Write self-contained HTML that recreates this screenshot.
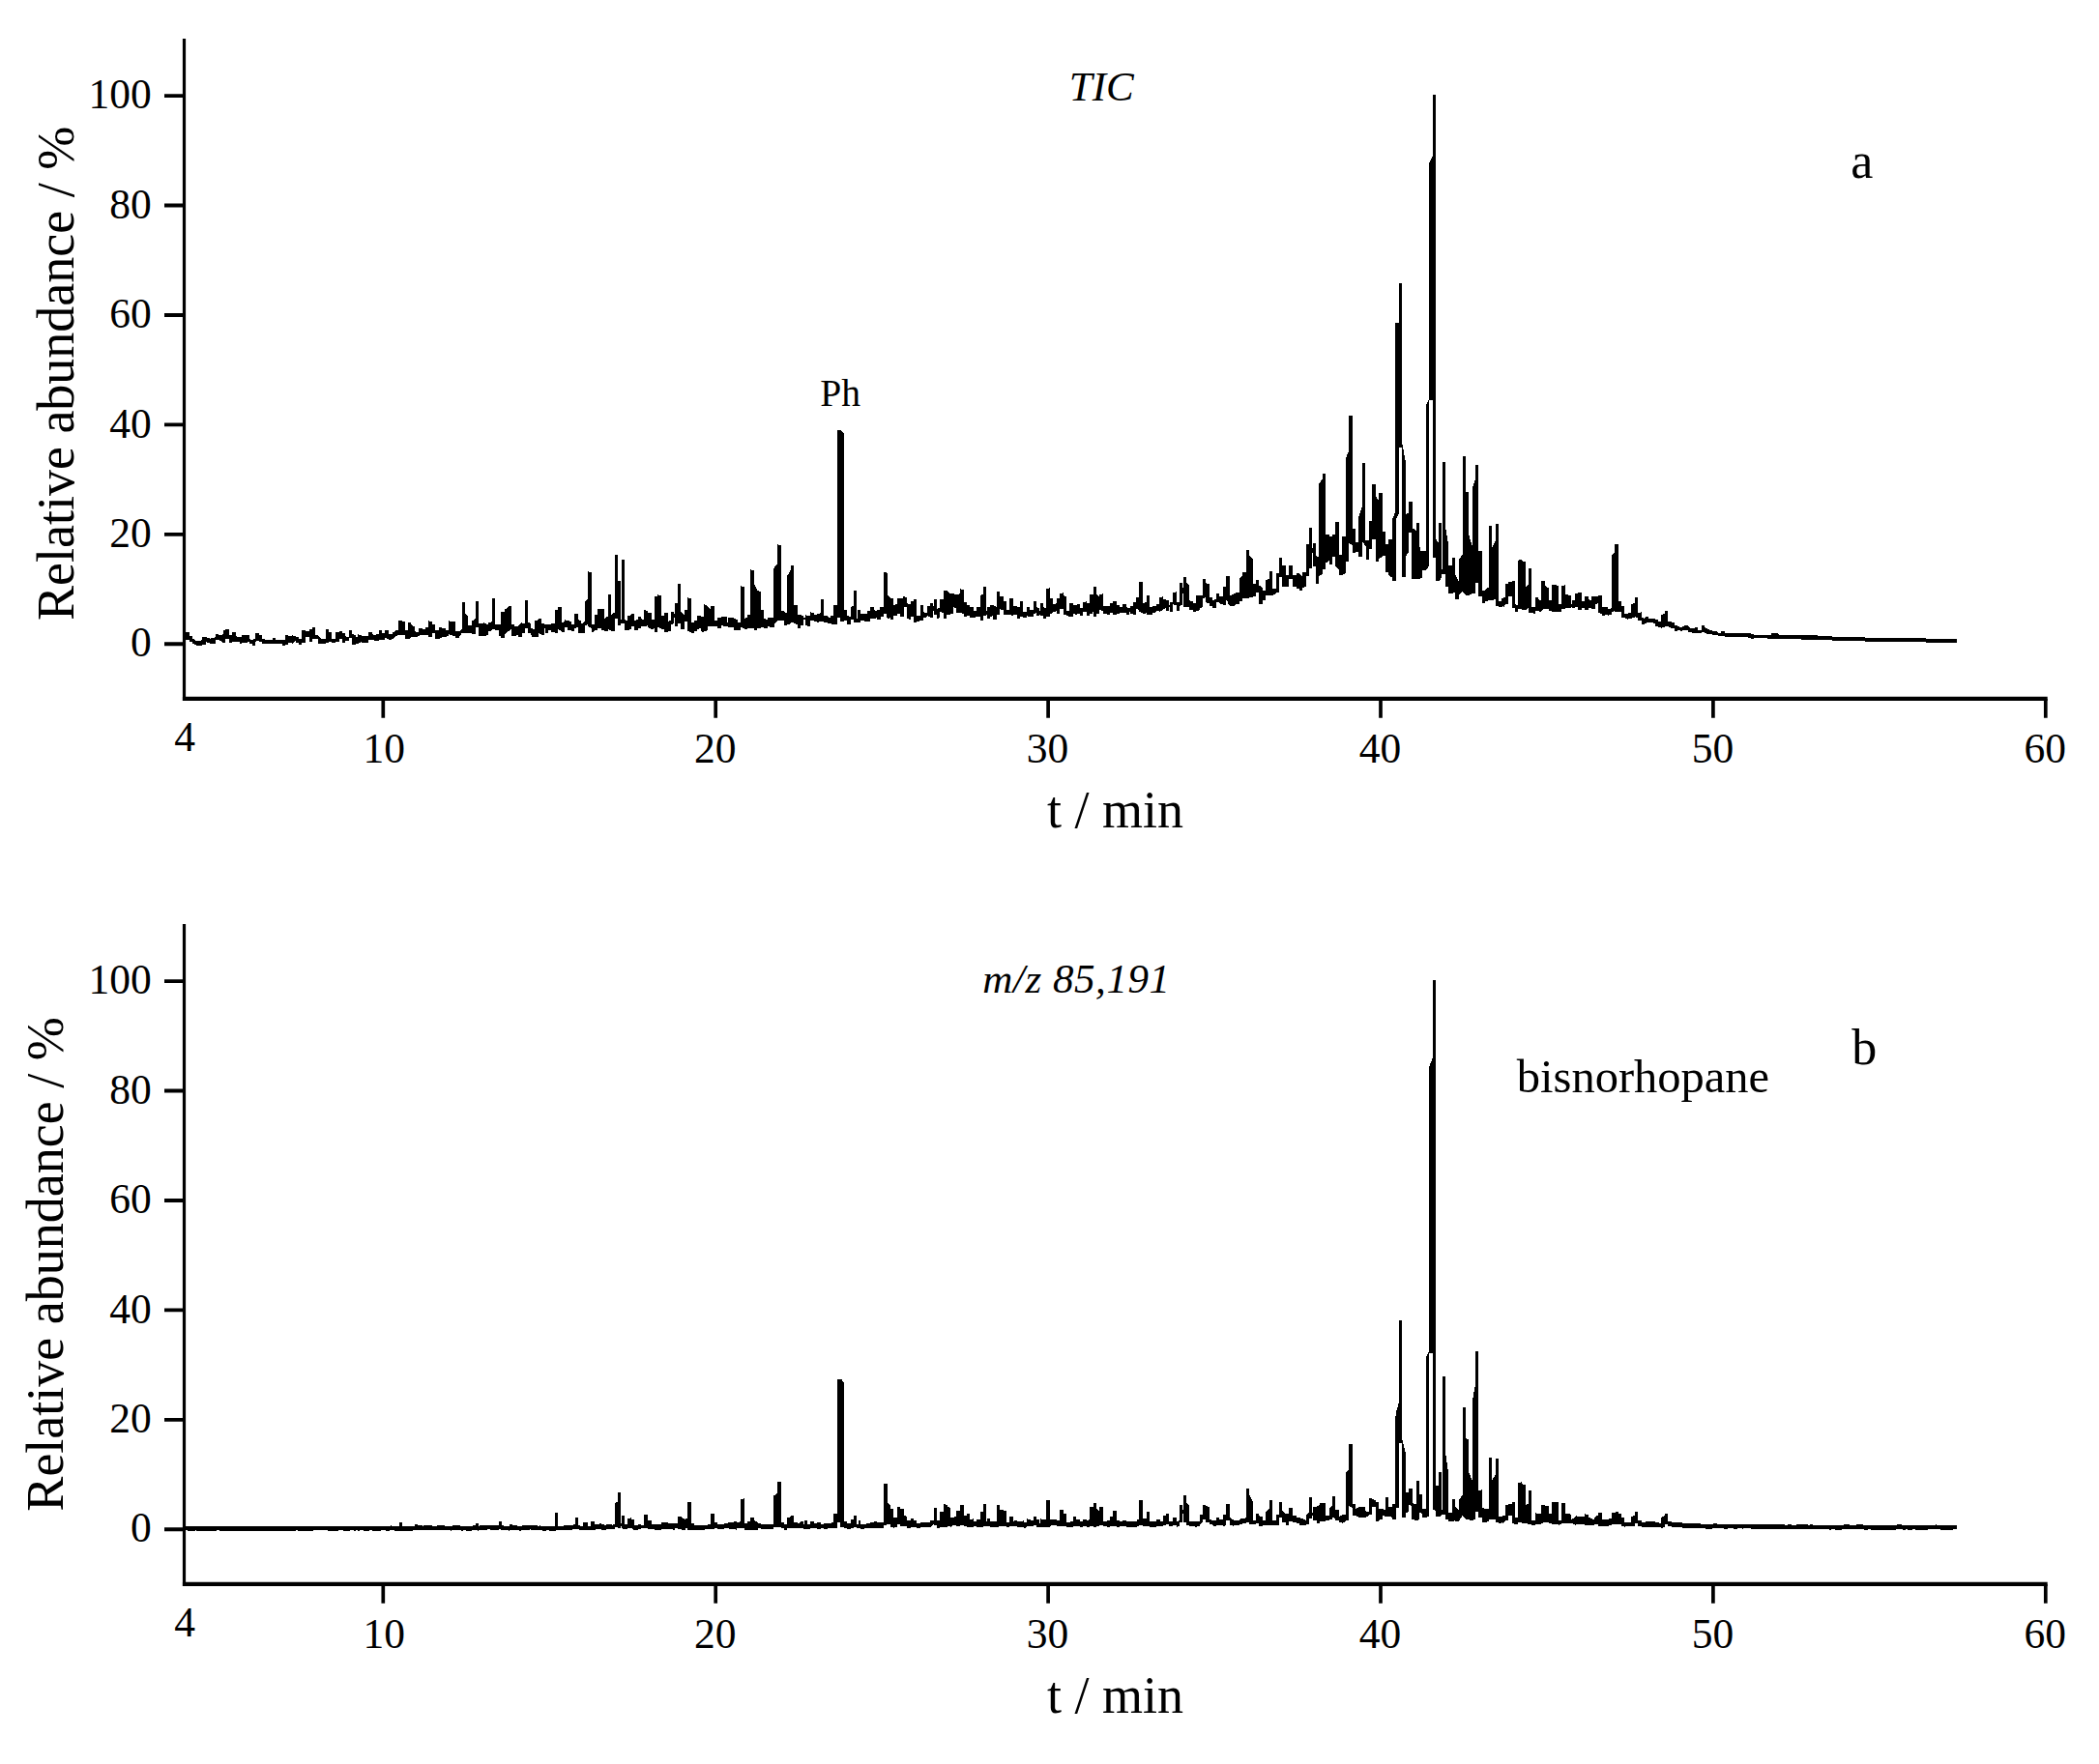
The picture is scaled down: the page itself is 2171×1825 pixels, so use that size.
<!DOCTYPE html>
<html lang="en"><head><meta charset="utf-8"><title>Chromatograms</title>
<style>html,body{margin:0;padding:0;background:#fff}svg{display:block}</style></head>
<body>
<svg width="2171" height="1825" viewBox="0 0 2171 1825">
<rect width="2171" height="1825" fill="#fff"/>
<g fill="none" stroke="#000" stroke-linecap="butt">
<path d="M190.5 40.0V724.9" stroke-width="3.2"/>
<path d="M188.9 722.9H2117.7" stroke-width="4.2"/>
<path d="M170 666.3H190M170 552.9H190M170 439.4H190M170 326.0H190M170 212.5H190M170 99.1H190" stroke-width="3.9"/>
<path d="M396.3 722.9V742.8M740.2 722.9V742.8M1084.1 722.9V742.8M1428.0 722.9V742.8M1771.9 722.9V742.8M2115.8 722.9V742.8" stroke-width="3.7"/>
</g>
<path fill="#000" shape-rendering="crispEdges" d="M190.5 662V654H196V658H199V660.5H200V661H200.5V661.5H201.5V662H202V662.5H202.5V663H204.5V662.5H208V662H209V659H213.5V659.5H215.5V660H217V660.5H217.5V660H219.5V659.5H221.5V659H223V656H226V657H228V656.5H230V656H230.5V651.5H233V650.5H237V657H240V654H244V658H244.5V658.5H246.5V659H250V657H257.5V661H259V661.5H260V662H261V661.5H262V661H263V660.5H264V655H268V656.5H271V660.5H272V661H273.5V661.5H274.5V662H275.5V661.5H282V660H285V661.5H288V662H295V657H298V658H302V657H302.5V657.5H304.5V658H306V659H309V661H312V652H316V653H319.5V651H322.5V649H326V657H329V658H329.5V658.5H330V659H330.5V659.5H331.5V660H332V661H337V651H340V654H343V660.5H347V654H350.5V653H354V655H357V658H358V658.5H360.5V659H361V652H364V655.5H365V656H366V656.5H367V657H368V659H370V656H370.5V656.5H372.5V657H374V657.5H381V654H385V656H385.5V656.5H387V657H388.5V656H390V655.5H392V652H395V654.5H398V652H402V656H406V654H406.5V653.5H407.5V653H408.5V652.5H409V652H412V642H415.5V643H419V652H422V644H425V646H425.5V646.5H426V647H427V647.5H428V648H429V653H430V653.5H432.5V654H433V650H437V650.5H439V651H440V648.5H443V642H443.5V642.5H445.5V643H446.5V645.5H450V652H453.5V648.5H457V650H460.5V651H461V651.5H463V652H464V642H465V642.5H468.5V643H470.5V653H474.5V652.5H475.5V652H476V651.5H477V651H477.5V623H481V635H481.5V635.5H482V636H482.5V636.5H483.5V637H484V646.5H486.5V647H488V642H488.5V641.5H489.5V641H490V640.5H490.5V640H491.5V622H495V645H497.5V644.5H500V644H501V644.5H502V645H503V645.5H504V646H505V644H506V643.5H508V643H509V619H512V646H518V633H522V630H522.5V629.5H523.5V629H524V628.5H524.5V628H525V627.5H525.5V627H529V645.5H532V648H534V647.5H535.5V647H536.5V646.5H537V646H537.5V645.5H538V645H538.5V644.5H539V644H539.5V644.5H541.5V645H543V621H546V643.5H547V644H547.5V644.5H548.5V645H549V650H549.5V650.5H550V650H551V650.5H552V651H553V642H554V641.5H555.5V641H557V640H560V645H563V646H570V645H574V631H577V628H581V644H581.5V643.5H582.5V643H584V641H585V641.5H586.5V642H588.5V642.5H591V646H594V635H598V641H599V641.5H600.5V642H601V645H601.5V644.5H602.5V644H603.5V643.5H604V643H605V622H605.5V621.5H606V621H606.5V620.5H607V619.5H607.5V619H608V591H609V591.5H611V592H612V646H615V636H618V630H625V640H625.5V639.5H626V639H626.5V638.5H627V638H628V637.5H628.5V637H629V615H632V636H632.5V635.5H633V635H633.5V634.5H634V634H635V633.5H635.5V633H636V574H639V601H642V641H643V579H646V641H647V641.5H648.5V642H649V637H650V636.5H652V636H653V635H656V642H656.5V641.5H657.5V641H658.5V640.5H659.5V640H660V638H663V640H664V640.5H665.5V641H666V631H667.5V631.5H669V632H670V634H674V641H677V617H678V616.5H679.5V616H680V615H681V615.5H683V616H684V637H684.5V636.5H686.5V636H687V634H691V643H691.5V642.5H692V642H693V641.5H693.5V641H694V633H697V635H698V624H701V604H704V633H704.5V633.5H705V634H706V634.5H706.5V635H707V635.5H707.5V636H708V631H711V618H712V618.5H714V619H715V644H718V642H721V637H725V638H728V625H728.5V625.5H730V626H731V626.5H732V628H732.5V628.5H733.5V629H734V629.5H735V627H739V642H742V639H745.5V638H752V644H753V639H759V640H760.5V640.5H762.5V641H763V644H766V606H767V606.5H768.5V607H770V640H770.5V639.5H771V639H772V638.5H773V636H776V589H777V589.5H779V590H780V604.5H780.5V605.5H781V606.5H781.5V607.5H782V608.5H782.5V609.5H783V611H784.5V611.5H786.5V612H787V631H790V640H791.5V640.5H793.5V641H794V639H800V587.5H801V585.5H801.5V585H802V584.5H803V584H803.5V583.5H804V563H805V563.5H806.5V564H808V632H811V633H811.5V633.5H812.5V634H814V595H814.5V594H815V593.5H815.5V592.5H816V592H816.5V591H817V590H817.5V589.5H818V585H821V626H825V636H829V636.5H830.5V637H831V639H832.5V636H834V636.5H837V637H838V633H838.5V633.5H840.5V634H842V636H845V635H846V634.5H847.5V634H849V620H852V637H856V638H857V638.5H858.5V639H859V637H862V626H866V445H870V445.5H870.5V446H871V446.5H871.5V447H872V447.5H872.5V448H873V631H876V637H878V637.5H880V628H880.5V627.5H881V627H882V626.5H883V611H886V640H887V631H890V635H897V632H900V628H904V631H904.5V631.5H906V632H907V631H910V628H914V592H917V593H918V615.5H918.5V616H919V616.5H919.5V617.5H920V618H920.5V618.5H921V619H924V626H924.5V625.5H925.5V625H926.5V624.5H927.5V624H928V619H934V617H935.5V617.5H937V618H938V624H939V624.5H941V625H942V622H943V621.5H944.5V621H945V620H948V637H952V626H955V633H956V633.5H958V634H959V627H962V624H965V627H966V620H969V630H969.5V629.5H970V629H971V628.5H971.5V628H972V620H976V611H980V612H980.5V612.5H981V613H982V613.5H983V614H987V614.5H988.5V615H991V614.5H992V614H993V609H994V609.5H996V610H997V623H1000V626H1003V627.5H1007V632H1010V628H1014V616H1014.5V615.5H1015V615H1016V614.5H1016.5V614H1017V607H1020V632H1021V628H1024V626H1025V625.5H1026.5V625H1027V626H1027.5V626.5H1028.5V627H1029.5V627.5H1030.5V628H1031V612H1034V617H1038V622H1041V631H1044V619H1048V627H1052V628H1055V622H1058V633H1062V628H1065V631H1069V622H1072V628H1073V628.5H1074.5V629H1075V632H1076V624H1079V628H1079.5V628.5H1081.5V629H1082V609H1083V608.5H1085V608H1086V619H1089V625H1090V624.5H1092V624H1093V619H1096V614H1097V613.5H1099V613H1100V616H1100.5V616.5H1102V617H1103V632H1104V631.5H1105.5V631H1106V624H1110V626H1114V625H1117V629H1120V623H1121V622.5H1123V622H1124V624H1127V615H1131V607H1134V614.5H1134.5V615H1135V615.5H1135.5V616.5H1136V617H1136.5V617.5H1137V615H1138V614.5H1140V614H1141V627H1148V624H1151V622H1155V626H1158V628H1161V625H1165V628H1166V628.5H1168V629H1169V627H1172V623H1175V618H1176V617.5H1177.5V617H1178V602H1179.5V601.5H1181.5V601H1182V624H1182.5V623.5H1183.5V623H1184.5V622.5H1185.5V622H1186V616H1189V628H1192V627H1193.5V626.5H1195.5V626H1196V625H1197V624.5H1198.5V624H1199V618H1200V617.5H1202V617H1203V620H1206V621H1209V626H1210V623H1213V613H1214V612.5H1216V612H1217V623H1220V603H1223V608H1224V597H1227V602.5H1227.5V603H1228V604H1228.5V604.5H1229V605H1229.5V606H1230V621H1230.5V621.5H1232.5V622H1234V624H1237V616H1242V615.5H1243.5V615H1244V599H1247V603H1247.5V603.5H1249.5V604H1251V618H1254V621H1254.5V620.5H1255.5V620H1256.5V619.5H1257.5V619H1258V614H1261V617H1265V607H1268V596H1272V616H1272.5V615.5H1273.5V615H1275V614.5H1276V614H1277V613.5H1278V613H1282V598H1282.5V597.5H1283V597H1283.5V596.5H1284V596H1285V592H1289V569H1292V575H1292.5V575.5H1293V576H1293.5V576.5H1294V577H1294.5V577.5H1295.5V578H1296V604H1299V600H1302V605.5H1303V606H1303.5V606.5H1304V607H1304.5V607.5H1305.5V608H1306V611H1309V600H1310V599.5H1311V599H1311.5V598.5H1312.5V598H1313V591H1316V609H1320V593H1323V577H1326V585H1330V595H1333V585H1337V595H1340.5V593H1344V594H1344.5V594.5H1345V595H1346V595.5H1346.5V596H1347V592H1350.5V563H1354V546H1357V567H1358V562H1361V575H1361.5V575.5H1363V576H1364V500H1364.5V499.5H1365V498.5H1365.5V498H1366V497H1366.5V496.5H1367V495.5H1367.5V495H1368V490H1371V553H1375V555H1378V553H1381V540H1385V574H1388V555H1392V472.5H1392.5V471.5H1393V470H1393.5V469H1394V468H1394.5V466.5H1395V429.5H1399V547H1402V560.5H1405V533.5H1405.5V532H1406V530.5H1406.5V529H1407V527.5H1407.5V526H1408V524.5H1408.5V523H1409V479H1412V558.5H1416V539H1419V501H1423V514H1423.5V515H1424V515.5H1424.5V516.5H1425V517H1425.5V518H1426V510H1430V550H1433V563H1436V557.5H1440V536H1440.5V534.5H1441V533.5H1441.5V532.5H1442V531H1442.5V530H1443V334H1447V293H1450V459.5H1450.5V462H1451V465H1451.5V467.5H1452V470.5H1452.5V473H1453V476H1453.5V478.5H1454V532H1454.5V531.5H1455V531H1456V530.5H1456.5V530H1457V519H1461V546.5H1461.5V547H1462.5V547.5H1463V548H1463.5V548.5H1464V549H1464.5V541H1468V566H1469V570H1474.5V418.5H1475V417.5H1475.5V416.5H1476V415.5H1476.5V414.5H1477V413.5H1477.5V412.5H1478V168H1478.5V167H1479V166H1479.5V164.5H1480V163.5H1480.5V162.5H1481V161.5H1481.5V97.5H1485V558H1485.5V558.5H1486V559.5H1486.5V560H1487V560.5H1487.5V561H1488V541H1491V589H1492V478H1495V548H1495.5V551H1496V554H1496.5V557H1497V559.5H1497.5V562.5H1498V585H1502V577H1505V595H1505.5V596H1506V597H1506.5V598H1507V598.5H1507.5V599.5H1508V600.5H1508.5V578H1509V577.5H1509.5V577H1510V576.5H1510.5V575.5H1511V575H1511.5V574.5H1512V574H1512.5V472H1516V509H1519V554H1519.5V555.5H1520V557.5H1520.5V559H1521V560.5H1521.5V562H1522V563.5H1522.5V504.5H1523V503H1523.5V501.5H1524V500H1524.5V498.5H1525V497H1525.5V495H1526V481H1529V570H1533V611H1536V609.5H1536.5V609H1537V608.5H1538V608H1539V607.5H1539.5V607H1540V544H1543V565.5H1543.5V564.5H1544V563.5H1544.5V562.5H1545V561.5H1545.5V560.5H1546V559.5H1546.5V558.5H1547V542H1550V622H1553V619H1554V618.5H1555V618H1555.5V617.5H1556.5V617H1557V604H1560V601.5H1564V601H1567V625H1567.5V625.5H1569V626H1570V579.5H1570.5V579H1574V580H1575V580.5H1576.5V581H1578V607H1578.5V606.5H1579V606H1579.5V605.5H1580V605H1580.5V604.5H1581V588H1584V628H1588V618H1590.5V620H1591.5V620.5H1593V621H1594V601H1598V606H1598.5V606.5H1599.5V607H1600V607.5H1601V608H1602V621H1605V605H1609.5V606H1612V625H1615V606H1616.5V605.5H1618V605H1619V615H1622V616H1625V624.5H1626V621H1629V613.5H1632V613H1636V622H1639V616.5H1643V620H1643.5V620.5H1645V621H1646V617H1647.5V616.5H1649.5V616H1650V617H1653V616H1657V628H1663V630H1664.5V629.5H1666V629H1667V574H1667.5V573.5H1668V573H1668.5V572.5H1669V572H1669.5V571.5H1670V563H1674V622H1677V627H1680V635H1684V634H1687V625H1687.5V624.5H1688.5V624H1689.5V623.5H1690.5V623H1691V618H1694V634H1695V633.5H1697V633H1698V639H1700V639.5H1700.5V639H1701V638.5H1701.5V637.5H1705V639.5H1712V641H1715V642.5H1718V636H1718.5V635.5H1719.5V635H1721V634.5H1722V632H1725V643H1728.5V644H1732V646.5H1735V647.5H1735.5V648H1737V648.5H1739.5V648H1742V646.5H1746V648H1746.5V648.5H1747V649H1748V649.5H1748.5V650H1752.5V648.5H1755.5V651.5H1760V647H1763V649H1764V649.5H1765V650H1766V650.5H1767V651H1768V651.5H1770V652H1770.5V652.5H1772.5V653H1775.5V653.5H1777V654.5H1780V652.5H1784V654.5H1801V655H1808V654.5H1811V656H1814V656.5H1828V657H1832V655H1838.5V656H1839.5V656.5H1844.5V657H1880V658H1894.5V658.5H1911.5V659H1928.5V659.5H1955V660H1991.5V660.5H2024V664.5H1991.5V664H1955V663.5H1928.5V663H1911.5V662.5H1894.5V662H1880V661.5H1863V660.5H1828V660H1814V661H1811V659.5H1808V658.5H1784V657.5H1777V657H1770.5V655.5H1765V655H1763.5V654.5H1763V653.5H1760V654.5H1749.5V653.5H1746V651.5H1741V652H1739.5V652.5H1737.5V651.5H1735V652.5H1732V649.5H1727.5V649H1726.5V648.5H1725.5V648H1725V647.5H1722V648H1721.5V648.5H1720V649H1719V649.5H1718V649H1715V648H1712V644.5H1709.5V644H1705.5V643.5H1705V644H1703V644.5H1701.5V645H1701V645.5H1700V646H1698V642H1694V639H1693.5V638.5H1692V638H1690.5V638.5H1689V639H1688V639.5H1684V640.5H1683V640H1682V639.5H1681V639H1677V633H1670V632H1668.5V632.5H1667V636H1664V636.5H1663V636H1660V636.5H1657.5V637H1657V635H1656.5V634.5H1654.5V634H1653V623.5H1652.5V624H1651.5V624.5H1650V629.5H1646V629H1643V631H1639V629H1636V630.5H1632V628H1629V629H1626V627.5H1625V629H1619V629.5H1615V633H1605V632H1602V629.5H1598V629H1597.5V629.5H1597V630H1596V630.5H1595.5V631H1594.5V631.5H1594V633H1593.5V632.5H1592V632H1588V634.5H1586V634H1581V628H1580.5V628.5H1580V629H1579.5V629.5H1579V630H1578.5V630.5H1578V631H1574V629.5H1570V633H1567V629H1564V617H1560V625H1557V625.5H1556.5V626H1556V627H1555.5V627.5H1555V626.5H1554.5V627H1554V627.5H1553.5V628H1550V627H1547V619.5H1546.5V620H1545V620.5H1543.5V621H1538.5V621.5H1536V624H1533V617H1529V603H1526V614H1522V614.5H1521V615H1520V615.5H1519V616H1516V615.5H1515.5V615H1515V614.5H1514.5V614H1514V613.5H1513.5V613H1513V612H1512V612.5H1511.5V613H1511V613.5H1510.5V614H1510V614.5H1509.5V615H1509V615.5H1508.5V620H1507.5V619.5H1505V612H1504.5V612.5H1503.5V613H1503V613.5H1502V614H1498V607H1495V594H1491V597.5H1490.5V598H1490V599H1489.5V599.5H1489V600H1488.5V600.5H1488V601H1485V576.5H1481.5V414H1478V585.5H1477.5V586H1477V587H1476.5V587.5H1476V588H1475.5V588.5H1475V589.5H1474.5V590H1471V597.5H1469V598H1468.5V598.5H1460V551H1457V571H1456.5V571.5H1456V572.5H1455.5V573H1455V574H1454.5V574.5H1454V597H1450V462.5H1447V530.5H1446.5V531.5H1446V532.5H1445.5V534H1445V535H1444.5V536H1444V601H1440V597.5H1439.5V597H1438.5V596.5H1438V596H1437V595.5H1436.5V595H1436V592H1433V575H1430V575.5H1429V576H1428.5V576.5H1427.5V577H1427V577.5H1426.5V578H1426V580.5H1423V558H1419V568H1416V578.5H1413V564.5H1412V564H1411.5V563.5H1411V562.5H1410.5V562H1410V561.5H1409.5V561H1409V575.5H1405V570.5H1402V571.5H1399V564H1398.5V563.5H1397.5V563H1397V562.5H1396V562H1395V580.5H1392V593H1391V593.5H1390V594H1389V594.5H1388V595H1385V589H1384.5V588.5H1384V588H1383.5V587.5H1382.5V587H1382V586.5H1381.5V586H1381V576H1378V583.5H1375V580H1374V580.5H1373V581H1372.5V581.5H1371.5V582H1371V589H1368V593H1367.5V593.5H1367V594H1366.5V594.5H1365.5V595H1365V595.5H1364.5V596H1364V603.5H1361V585.5H1358V572H1357V587.5H1354V595.5H1350.5V606.5H1350V607H1348.5V607.5H1347.5V608H1347V610.5H1344V608.5H1340.5V606.5H1337V599H1333V606.5H1326V597H1323V613H1320V613.5H1319.5V614H1318.5V614.5H1317.5V615H1317V615.5H1316V616H1309V621H1306V625H1302V613H1299V617H1296V618H1292V619H1285V622H1282V625H1278V626H1276.5V626.5H1273V627H1271.5V626H1271V625.5H1270.5V624.5H1270V622.5H1269.5V622H1269V621.5H1268.5V621H1268V626H1265V625H1264V624.5H1262V624H1261V623H1258V629H1254V627H1251V624H1250V623.5H1248V623H1247V618H1246V618.5H1244.5V619H1244V628H1243V628.5H1241.5V629H1241V631H1239.5V631.5H1237.5V632H1237V633H1234V631H1230V628H1224V613.5H1223V625H1222.5V625.5H1222V626H1221V626.5H1220.5V627H1220V632H1217V626H1215.5V625.5H1213.5V625H1213V633H1210V628H1209V632H1206V629H1205V629.5H1203.5V630H1203V631H1202V631.5H1201V632H1200V632.5H1199.5V633H1199V632H1196V633H1195V633.5H1193V634H1192V636H1186V634H1185V634.5H1182.5V635H1182V634H1181V633.5H1179.5V633H1178V630.5H1176.5V630H1175V636H1172V635H1169V633H1168V636H1165V634H1158V635H1155V636H1151V634H1148V636H1144.5V635H1141V632H1140.5V631.5H1139V631H1137V635H1134V638H1131V633H1130V634H1129.5V634.5H1127.5V635H1127V637H1124V633H1120V637H1117V635H1114V635.5H1111.5V635H1110V638H1105.5V637.5H1104.5V637H1103V635.5H1100V630H1096V635H1093V632H1091.5V632.5H1089.5V633H1089V634H1088V634.5H1086.5V635H1086V638H1082V640H1079V637H1076V635.5H1075V637H1072V634H1071V634.5H1069.5V635H1069V638H1064.5V637.5H1063V637H1062V639H1058V638H1055V640H1052V635.5H1048V637H1047.5V636.5H1046V636H1044V635.5H1038V631H1036.5V630.5H1035V630H1034V635.5H1031V641H1027V637H1026V637.5H1024.5V638H1024V640H1021V636H1020V637H1017V642H1014V638H1009V638.5H1007.5V639H1003V637H1000V638H997V634.5H995V634H993V633.5H990V634H989V629H988.5V628.5H987V628H986V635H983V636H979V640H976V634H975.5V633.5H973.5V633H972V639H971V639.5H969.5V640H969V636H966V632H965V639H962V638H961.5V637.5H960V637H959V638H957.5V638.5H956V639H955V642H950.5V642.5H948.5V643H948V644H945V638H942V641H941.5V640.5H939.5V640H938V627.5H935V638H931V635H928V637H924V641H921V639H920V639.5H918.5V640H918V639H917V635H914V638H911V641H907V639H906V639.5H904.5V640H900V643H894V642H890V644H883V641H880V646H876V642H873V643H869V639H865.5V646H861.5V645.5H860V645H856V644H852V643H849V642H848.5V642.5H847.5V643H846.5V643.5H845.5V644H845V643H842V642H838V648H837V647.5H834.5V647H832.5V641H831V647H828V650H825V646H824.5V645.5H822.5V645H821V644H818V645H816.5V645.5H814.5V646H814V647H811V642H803.5V642.5H803V643H802.5V643.5H802V644H801.5V644.5H801V649H799V648.5H796V648H794V650H790V649H787V650H783V652H780V650H773V651H770V650H769.5V649.5H767.5V649H766V652H759V649H753V648H751V647.5H748V647H745.5V650H742V648H732V652H730.5V652.5H728.5V653H728V654H727.5V653.5H726V653H725V649.5H724V650H722.5V650.5H721.5V651H721V653H718V655H715V654H714.5V653.5H712.5V653H711V643H708V651H704V645H701V648H698V639H697V645H695.5V645.5H694V653H691V654H687V651H684V650H683V649.5H681.5V649H680V654H677V650H676V650.5H674V651H673.5V650.5H672.5V650H672V649.5H671V649H670V647H669V647.5H667V648H663V650H660V652H656V648H653V650H652.5V650.5H651.5V651H650.5V651.5H649.5V652H646V645H642V647H639V640H636V653H632V652H631.5V651.5H630V651H629V653H625V652H622V650H618V652H615V653H614V653.5H612.5V654H612V650H611.5V649.5H610.5V649H609.5V648.5H608.5V648H608V646H607V646.5H605.5V647H605V655H598V648H597.5V648.5H596.5V649H595.5V649.5H594.5V650H594V653H591V652H587V649H584V654H581V652.5H580V652H579V651.5H578V651H577V655H574V654H570V652H567V655H564V650H563V657H560V656H559.5V655.5H558V655H557V659H550V657.5H549.5V657H549V655H546V650H543V655H539.5V659H536V656.5H534.5V657H533.5V657.5H532.5V658H529V650H528.5V650.5H528V651H527.5V651.5H527V652H526.5V652.5H526V653H525V653.5H524.5V654H524V654.5H523.5V655H522.5V655.5H522V659.5H518V658H515.5V652H512V650.5H509V652H507.5V652.5H505.5V653H505V656.5H504.5V657H503V657.5H501.5V658H495V649H491.5V655.5H488V655H477V655.5H476.5V656.5H476V657H475.5V658H475V658.5H474.5V659.5H474V660H470.5V658H470V657.5H468V657H466.5V656.5H464.5V656H464V657H463.5V657.5H462.5V658H461.5V658.5H460.5V659H457V659.5H456V660H455V660.5H453.5V661H450V655H446.5V659H443V657H436.5V656.5H435V657H433.5V657.5H433V658H431.5V658.5H429.5V659H425V659.5H424.5V660H423.5V660.5H422.5V661H421V660.5H419V657H411V657.5H410V658H409V658.5H408.5V659H408V659.5H407V660H406.5V660.5H406V661H404.5V661.5H403V662H402V661H401V660.5H399.5V660H398V662H392V663H388V662.5H386.5V662H381V664.5H374V664H373V664.5H372V665H371V665.5H368V666.5H364V660H361V662.5H357V664.5H354V660.5H350.5V663.5H347V664.5H343V663.5H340V664.5H337V665.5H329V661H326V660.5H322.5V663.5H319.5V659H316V664.5H312V667H309V664.5H306V662H305.5V662.5H305V663H304.5V663.5H304V664H303.5V664.5H303V665H302.5V665.5H302V664.5H298V666.5H295V667.5H292V665.5H271V663.5H268V662H267.5V662.5H266V663H264.5V663.5H264V667.5H261V665.5H257.5V664H255.5V664.5H253V665H250V665.5H247.5V663.5H240V664.5H237V660.5H233V664.5H230V664H229V663.5H228.5V663H227.5V662.5H226.5V662H223V665.5H217V665H215V664.5H213.5V664H213V666.5H209V667.5H202.5V667H202V666.5H201V666H200V665.5H199V663.5H196V662Z"/>
<g font-family="'Liberation Serif','Times New Roman',Times,serif" font-size="43.5px" fill="#000">
<g text-anchor="end">
<text x="156.8" y="679.4">0</text>
<text x="156.8" y="566.0">20</text>
<text x="156.8" y="452.5">40</text>
<text x="156.8" y="339.1">60</text>
<text x="156.8" y="225.6">80</text>
<text x="156.8" y="112.2">100</text>
</g><g text-anchor="middle">
<text x="191.2" y="777.0">4</text>
<text x="397.2" y="788.9">10</text>
<text x="739.7" y="788.9">20</text>
<text x="1083.6" y="788.9">30</text>
<text x="1427.5" y="788.9">40</text>
<text x="1771.4" y="788.9">50</text>
<text x="2115.3" y="788.9">60</text>
</g></g>
<text font-family="'Liberation Serif','Times New Roman',Times,serif" font-size="54px" text-anchor="middle" x="1153.6" y="856.4">t / min</text>
<text font-family="'Liberation Serif','Times New Roman',Times,serif" font-size="54px" text-anchor="middle" transform="translate(75.5 386.4) rotate(-90)">Relative abundance / %</text>
<text font-family="'Liberation Serif','Times New Roman',Times,serif" font-size="43px" font-style="italic" letter-spacing="0" x="1105.8" y="103.6">TIC</text>
<text font-family="'Liberation Serif','Times New Roman',Times,serif" font-size="52px" x="1914.2" y="183.6">a</text>
<text font-family="'Liberation Serif','Times New Roman',Times,serif" font-size="39.5px" x="848.3" y="419.9">Ph</text>
<g fill="none" stroke="#000" stroke-linecap="butt">
<path d="M190.5 956.0V1640.9" stroke-width="3.2"/>
<path d="M188.9 1638.9H2117.7" stroke-width="4.2"/>
<path d="M170 1582.3H190M170 1468.9H190M170 1355.4H190M170 1242.0H190M170 1128.5H190M170 1015.1H190" stroke-width="3.9"/>
<path d="M396.3 1638.9V1658.8M740.2 1638.9V1658.8M1084.1 1638.9V1658.8M1428.0 1638.9V1658.8M1771.9 1638.9V1658.8M2115.8 1638.9V1658.8" stroke-width="3.7"/>
</g>
<path fill="#000" shape-rendering="crispEdges" d="M190.5 1583.5V1578.5H203.5V1579H219.5V1578.5H222V1579H223V1578.5H227V1579H237.5V1578.5H243.5V1579H305.5V1578.5H311.5V1579H323.5V1578.5H339.5V1579H349V1578.5H355.5V1579H361V1578.5H376V1579H381V1578.5H386.5V1579H392.5V1578.5H402V1579H402.5V1578.5H404V1578H405V1578.5H409.5V1579H412.5V1574.5H415.5V1578.5H416V1579H419.5V1578.5H429V1577H432V1578H436.5V1578.5H438V1578H447V1578.5H451.5V1578H459.5V1578.5H468V1578H475.5V1578.5H489V1578H490V1577.5H491V1578H491.5V1575.5H494.5V1578.5H495.5V1578H500.5V1577.5H508V1578H514.5V1577.5H515.5V1573.5H518.5V1577.5H519V1578H520.5V1578.5H526.5V1577H529.5V1578H530V1577.5H533V1578H534.5V1578.5H540V1578H547V1577.5H549.5V1578H550.5V1577.5H553.5V1578H555.5V1578.5H558V1578H559V1578.5H574V1564.5H577V1578.5H583V1578H586.5V1577.5H590V1578H590.5V1577.5H593V1577H594.5V1570H597.5V1577.5H600V1579H603V1575H608V1578.5H611V1574H615V1576.5H620V1576H622V1577H624.5V1577.5H626.5V1577H633V1577.5H633.5V1577H634.5V1576.5H635.5V1576H636V1555H636.5V1554.5H637V1554H637.5V1553.5H638.5V1553H639V1544H642V1576H643V1568H646V1576.5H649V1571H650V1570.5H651.5V1570H652.5V1571.5H655V1572H656V1578H660V1577H663V1577.5H666V1567H667.5V1566.5H669.5V1566H670V1573H674V1576.5H676V1577H682V1576.5H684V1575H691V1576H701V1569H705V1570H706V1570.5H706.5V1571H707.5V1571.5H709V1571H709.5V1570.5H710.5V1570H711V1554H715V1576H718V1578H721.5V1577.5H728.5V1577H729V1577.5H732V1577H735V1566H737.5V1565.5H739V1575H742V1577H749V1576H753V1575H753.5V1574.5H759V1574H762V1575H763V1574.5H765V1574H766V1551H767.5V1550.5H769V1550H770V1576H773V1574H776V1570H780V1573H780.5V1573.5H781.5V1574H783V1574.5H784V1576H787V1577H800V1547H800.5V1546.5H801.5V1546H802.5V1545.5H803V1545H804V1533H808V1575H811V1577H814V1569.5H816.5V1569H817.5V1568H821V1574.5H822V1575H825V1576H825.5V1575.5H826.5V1575H827.5V1574.5H828V1574H831V1577H832V1573H835V1577H838V1574H841.5V1576H845V1575H848.5V1577H852V1576H860V1575H862V1566H865.5V1427H870.5V1427.5H871V1428.5H871.5V1429H872V1429.5H872.5V1430H873V1574H876V1575.5H880V1572H881V1571.5H883V1568H886V1577H887.5V1573H889.5V1577H894V1576.5H896V1576H899.5V1575.5H900V1575H904V1574H907V1574.5H914V1535H918V1554.5H918.5V1555H919V1555.5H919.5V1556H920V1556.5H920.5V1557H921V1561H924V1569.5H928V1559H931V1561H935V1567.5H936V1568H936.5V1568.5H937V1569H938V1573H942V1571H945V1573H948V1576H952V1575H962V1573H966V1560H969V1573H972V1564H976V1556H977.5V1556.5H980V1558.5H981V1559H981.5V1559.5H982V1560H983V1570H984.5V1569.5H987V1569H989V1563H991V1562.5H992.5V1562H993V1557H997V1568H998V1567.5H999.5V1567H1000V1566H1003V1572H1004.5V1571.5H1006V1571H1006.5V1574H1010V1572H1014V1564H1017V1556H1020V1573.5H1021V1571H1024V1574H1031V1557H1034V1562H1037.5V1562.5H1038V1563H1041V1574.5H1044V1568.5H1047.5V1569H1048V1573.5H1048.5V1573H1050V1572.5H1051.5V1572H1052V1574H1054V1573.5H1057.5V1573H1058.5V1574.5H1062V1571H1062.5V1571.5H1064.5V1572H1065.5V1573H1069V1569H1072V1572H1075V1575.5H1076V1571H1077V1571.5H1080.5V1572H1082V1552H1086V1572H1093V1573H1096V1562H1100V1565.5H1101.5V1566H1103V1575H1103.5V1574.5H1107V1574H1110V1569H1113V1572H1117V1574H1120V1572H1124V1573H1124.5V1572.5H1125.5V1572H1126V1571.5H1127V1559H1131V1555H1134V1561H1134.5V1561.5H1135.5V1562H1136V1562.5H1137V1558.5H1138.5V1559H1141V1574H1144.5V1573H1146V1572.5H1148V1569H1151V1563H1155V1573H1158V1574H1161V1573H1165V1574H1175.5V1572H1178V1551.5H1182V1571H1183.5V1570.5H1185.5V1570H1186V1564H1189V1574H1196V1572H1200V1573.5H1203V1568H1206V1566H1209V1573.5H1213V1570H1217V1574H1217.5V1573.5H1218.5V1573H1219V1572.5H1220V1557H1223V1562H1224V1547H1227V1554.5H1227.5V1555H1228V1555.5H1228.5V1556H1229V1556.5H1229.5V1557H1230V1573.5H1233.5V1574H1238.5V1573.5H1241V1567H1244V1557H1247V1557.5H1247.5V1558H1249V1558.5H1250V1559H1251V1571.5H1251.5V1572H1253V1572.5H1254V1573H1258V1570H1261V1571.5H1262V1572H1264.5V1572.5H1265V1567H1268V1556H1272V1570H1272.5V1570.5H1273V1571H1274V1571.5H1275V1572H1276V1572.5H1282V1571.5H1283V1571H1285.5V1570.5H1288V1570H1289V1540H1292V1547H1292.5V1548H1293V1549H1293.5V1549.5H1294V1550.5H1294.5V1551.5H1295V1552.5H1295.5V1553H1296V1572.5H1299V1566H1302V1568H1302.5V1568.5H1304V1569H1305.5V1569.5H1306V1573H1309V1564H1309.5V1563.5H1310V1563H1310.5V1562.5H1311V1562H1311.5V1561.5H1312V1561H1312.5V1560.5H1313V1552H1316V1572.5H1320V1567H1323V1554H1326V1562.5H1326.5V1563H1327V1563.5H1327.5V1564H1328V1564.5H1328.5V1565H1329V1565.5H1329.5V1566H1333V1559.5H1337V1568H1341V1569.5H1344V1570H1344.5V1570.5H1346V1571H1347.5V1571.5H1348.5V1572H1350V1572.5H1350.5V1567.5H1351V1567H1351.5V1566.5H1352V1566H1352.5V1565.5H1353V1565H1353.5V1564.5H1354V1549H1357V1564.5H1358V1559H1362V1558H1362.5V1557.5H1363.5V1557H1364.5V1556.5H1365V1555H1371V1568H1372.5V1567.5H1374.5V1567H1375V1560H1375.5V1559.5H1376V1559H1376.5V1558.5H1377V1558H1377.5V1557.5H1378V1548H1381V1562H1384.5V1568.5H1385.5V1568H1386.5V1567.5H1387.5V1567H1392V1523H1392.5V1522H1393V1521.5H1393.5V1521H1394V1520.5H1394.5V1520H1395V1494H1399V1556H1402V1561H1402.5V1560.5H1403V1560H1404V1559.5H1404.5V1559H1412V1563H1413V1563.5H1415V1564H1416V1550H1419V1551H1420.5V1551.5H1423V1554H1426V1561H1430.5V1561.5H1433V1549H1436V1559H1440V1556H1441V1555.5H1442.5V1555H1443V1464.5H1444V1459H1444.5V1457.5H1445V1455.5H1445.5V1453.5H1446V1451.5H1446.5V1450H1447V1365.5H1450V1489.5H1450.5V1491.5H1451V1493.5H1451.5V1495.5H1452V1497.5H1452.5V1499.5H1453V1501.5H1453.5V1503.5H1454V1544H1457V1540H1461V1555H1461.5V1555.5H1463V1556H1464.5V1532H1468V1546H1471V1561H1474.5V1404H1475V1403H1475.5V1402H1476V1400.5H1476.5V1399.5H1477V1398.5H1477.5V1397H1478V1103H1478.5V1101.5H1479V1100H1479.5V1099H1480V1097.5H1480.5V1096H1481V1094.5H1481.5V1013.5H1485V1537H1488V1523H1491V1562H1492V1423.5H1495V1505.5H1495.5V1509H1496V1512.5H1496.5V1516.5H1497V1520H1497.5V1523.5H1498V1565H1502V1551H1505V1559H1505.5V1559.5H1506V1560H1506.5V1560.5H1507V1561H1507.5V1561.5H1508V1562H1508.5V1562.5H1509V1551H1509.5V1550H1510V1549.5H1510.5V1548.5H1511V1548H1511.5V1547H1512V1546.5H1512.5V1455.5H1516V1488H1516.5V1488.5H1517.5V1489H1519V1523.5H1519.5V1524.5H1520V1526H1520.5V1527H1521V1528.5H1521.5V1529.5H1522V1530.5H1522.5V1449H1523V1446H1523.5V1443H1524V1440H1524.5V1437.5H1525V1434.5H1525.5V1431.5H1526V1397.5H1529V1542H1529.5V1541.5H1532V1541H1533V1560H1534.5V1560.5H1537.5V1561H1540V1508H1543V1530.5H1543.5V1529.5H1544V1529H1544.5V1528H1545V1527.5H1545.5V1526.5H1546V1526H1546.5V1525H1547V1509H1550V1569H1554V1568H1555V1567.5H1556.5V1567H1557V1557H1560V1556H1562V1555.5H1564V1554H1566.5V1570H1570V1533.5H1573V1533H1574V1535H1575V1535.5H1576.5V1536H1578V1557H1578.5V1556.5H1579V1556H1580V1555.5H1580.5V1555H1581V1542H1584V1572.5H1588V1565H1589V1565.5H1591.5V1566H1594V1556.5H1595.5V1557H1597.5V1557.5H1598.5V1558H1602V1566H1605V1554H1609.5V1553.5H1612V1572.5H1615V1555H1619V1565.5H1619.5V1566H1624V1566.5H1625V1572H1625.5V1571.5H1626V1571H1627V1570.5H1627.5V1570H1628.5V1569.5H1629V1569H1629.5V1568H1630.5V1568.5H1634.5V1569H1638.5V1569.5H1639V1566H1639.5V1566.5H1642V1567H1643V1570H1644.5V1570.5H1645.5V1571H1647V1571.5H1648.5V1572H1649V1569.5H1649.5V1569H1650V1568.5H1651V1568H1652V1567.5H1653V1565H1657V1572H1664V1571H1667V1565H1668.5V1564.5H1670.5V1564H1672V1563.5H1674V1566H1677V1570H1680V1574.5H1687V1569H1687.5V1568.5H1688.5V1568H1689.5V1567.5H1690.5V1567H1691V1563.5H1694V1572.5H1695.5V1573H1697.5V1573.5H1698V1575H1702V1574H1712V1575H1715.5V1575.5H1718V1570H1718.5V1569.5H1719V1569H1720V1568.5H1721V1568H1721.5V1567.5H1722V1566H1725V1574H1729V1575H1740V1576H1742.5V1575.5H1749.5V1576H1750V1575.5H1753.5V1576H1758.5V1576.5H1772V1576H1776V1576.5H1783.5V1577H1786.5V1576.5H1794V1577H1794.5V1576.5H1812V1577H1845.5V1577.5H1849V1577H1852.5V1577.5H1857.5V1577H1861.5V1576.5H1864.5V1577H1869.5V1577.5H1871.5V1577H1875V1577.5H1907V1577H1913V1577.5H1919.5V1577H1926.5V1577.5H1962V1577H1966.5V1577.5H1974V1578H1976V1577.5H1983V1578H1988.5V1577.5H1991V1578H1992.5V1577.5H2002V1577H2002.5V1577.5H2015V1578H2018.5V1577.5H2024V1582H2019.5V1582.5H2007V1582H1998V1582.5H1997.5V1582H1994V1582.5H1981V1582H1977.5V1582.5H1972.5V1582H1971V1582.5H1967.5V1582H1960.5V1582.5H1934.5V1582H1931.5V1582.5H1927.5V1582H1904.5V1582.5H1898V1582H1894V1582.5H1891.5V1582H1869V1581.5H1859V1582H1844.5V1581.5H1834V1582H1830V1581.5H1827V1582H1823.5V1581.5H1811V1581H1802.5V1581.5H1801.5V1581H1796.5V1581.5H1792.5V1581H1787V1581.5H1782.5V1581H1770.5V1581.5H1763.5V1581H1757.5V1580.5H1740V1579.5H1729V1579H1725V1577H1722V1580H1720V1580.5H1718V1579.5H1698V1578.5H1694V1576H1691V1578.5H1686V1579H1680.5V1579.5H1680V1579H1677V1577H1667V1577.5H1664V1579H1657V1578.5H1653V1577H1649V1577.5H1639V1577H1629.5V1577.5H1629V1577H1628V1576.5H1626.5V1576H1625V1575.5H1615V1576H1614.5V1576.5H1613.5V1577H1612.5V1577.5H1612V1577H1605V1575.5H1602V1575H1598.5V1574.5H1597V1575H1595.5V1575.5H1594V1577H1588V1577.5H1584V1577H1581V1576.5H1579.5V1576H1578V1575.5H1574V1575H1570V1577H1566.5V1576.5H1566V1576H1565V1575.5H1564V1568H1560V1573H1556.5V1573.5H1556V1574H1555.5V1574.5H1555V1575H1554.5V1575.5H1554V1575H1552.5V1575.5H1550V1575H1547V1571.5H1540V1574H1537.5V1574.5H1535V1575H1533V1569.5H1529V1564H1526V1571H1525.5V1571.5H1524.5V1572H1523.5V1572.5H1522.5V1573H1521.5V1572.5H1519.5V1572H1519V1571.5H1515.5V1571H1515V1570.5H1514.5V1570H1514V1569H1513.5V1568.5H1513V1568H1512V1569H1511.5V1569.5H1511V1570.5H1510.5V1571H1510V1572H1509.5V1572.5H1509V1573.5H1505V1573H1503.5V1573.5H1498V1571.5H1495V1566H1494.5V1566.5H1493V1567H1491V1568H1489.5V1568.5H1485V1562.5H1483.5V1562H1481.5V1400H1478V1568.5H1477.5V1569H1475.5V1569.5H1471V1565.5H1469.5V1565H1468V1571.5H1467.5V1572H1466.5V1572.5H1465V1573H1464V1572.5H1462.5V1572H1461V1571.5H1460V1557.5H1458.5V1557H1457.5V1556.5H1457V1563.5H1456.5V1564H1455.5V1564.5H1454V1569.5H1450V1492.5H1447V1559.5H1444V1571.5H1440V1569.5H1439V1569H1436.5V1568.5H1431.5V1568H1429.5V1572H1427V1572.5H1426V1573.5H1423V1559H1419V1566.5H1416V1568H1415V1568.5H1413.5V1569H1412.5V1569.5H1405V1569H1404V1568.5H1403V1568H1399V1559.5H1398V1559H1397V1558.5H1396V1558H1395V1573H1391.5V1573.5H1391V1574H1390.5V1574.5H1389.5V1575H1389V1575.5H1388.5V1576H1388V1575.5H1387.5V1575H1386V1574.5H1385V1574H1384.5V1573H1381V1571H1380V1570H1378V1571.5H1375V1572H1374.5V1572.5H1372.5V1573H1371V1573.5H1367.5V1574H1365V1576H1362V1572.5H1358V1568H1357V1570.5H1354V1577H1350.5V1578H1344V1576H1341V1575H1337V1574H1333V1578H1330V1575H1326V1570H1323V1577.5H1320V1578H1316V1577.5H1313V1578H1306V1579H1302V1576H1299V1577H1292V1575H1289V1575.5H1287V1576H1284.5V1576.5H1282.5V1577H1282V1578H1276V1578.5H1274.5V1578H1273V1577.5H1272V1573H1268V1578H1267V1578.5H1265.5V1579H1265V1578H1261V1577.5H1258V1579H1255V1577.5H1253.5V1577H1252.5V1576.5H1251V1575H1247V1572H1244V1574.5H1243.5V1575H1243V1575.5H1242.5V1576H1242V1576.5H1241.5V1577H1241V1578H1240.5V1578.5H1239V1579H1237.5V1579.5H1236V1579H1230V1577.5H1227V1575H1224V1565.5H1223V1575H1220V1578H1219.5V1578.5H1218.5V1579H1218V1579.5H1217V1577.5H1213V1579H1209V1577H1206V1578H1203V1579H1200V1578.5H1196V1579.5H1189V1579H1182V1577.5H1178V1578.5H1175.5V1579.5H1165V1579H1158V1580H1155V1579H1151V1578.5H1148V1580H1144.5V1579H1141V1577.5H1137V1578.5H1134V1580H1131V1579H1127V1580H1124V1579H1120V1580H1117V1579H1110V1580H1103V1579H1100V1578.5H1096V1579H1093V1577.5H1090.5V1578H1086.5V1578.5H1086V1580H1076V1579.5H1072V1577.5H1069V1579H1062V1580H1060.5V1580.5H1058.5V1580H1052V1579H1048V1578.5H1044V1580H1041V1579H1038V1578.5H1033V1579H1032.5V1579.5H1031.5V1580H1024V1579H1021V1578.5H1017V1580H1010V1579H1006.5V1579.5H1000V1578.5H997V1577.5H993V1579H989V1578H987V1577H986.5V1577.5H986V1578H985V1578.5H984.5V1579H983.5V1579.5H983V1578.5H980V1579.5H972V1581H969V1578H966V1577H965V1577.5H964.5V1578H964V1578.5H963.5V1579H962.5V1579.5H952V1581H948V1579.5H942V1581H938V1579H931V1577H928V1579.5H926.5V1580H925V1580.5H924V1579.5H921V1577H917V1577.5H915V1578H913.5V1581H894V1581.5H889.5V1581H886V1579.5H883V1581H880V1581.5H876V1581H873V1580H869V1575H865.5V1581H855.5V1581.5H852V1581H848.5V1581.5H845V1581H838V1582H835V1581.5H831V1581H828V1580.5H825V1581H814V1582.5H811V1580.5H808V1580H800V1582H787V1581H784V1582.5H770V1580.5H762V1582.5H760.5V1582H757V1581.5H753.5V1581H749V1582H742V1581H739V1581.5H735V1582H729V1583H711V1580.5H708.5V1582.5H705V1581.5H701V1581H697.5V1582.5H696V1582H692.5V1581.5H691V1582H684V1583H678V1582.5H676.5V1582H675V1581.5H674V1582H670V1581H663V1582H660V1583H656V1582.5H655V1582H654.5V1581.5H653.5V1581H653V1580.5H649V1582H646V1581.5H644V1581H643V1579H642V1580.5H639V1580H636V1581.5H628V1582H626.5V1582.5H624.5V1583H622V1581.5H620V1582H615.5V1583H608.5V1582.5H602.5V1583H600V1582.5H599V1582H591.5V1582.5H584V1583H575V1583.5H568V1583H565V1583.5H561V1583H555V1582.5H551.5V1583H550.5V1582.5H549V1582H547.5V1582.5H542.5V1583H539V1583.5H537V1583H534V1582.5H529V1583H527V1583.5H525.5V1583H519.5V1582.5H518V1582H516V1582.5H506.5V1582H503.5V1582.5H496V1583H495V1583.5H494V1583H492.5V1582.5H489.5V1583H488V1583.5H482V1583H479V1583.5H477V1583H472.5V1582.5H469V1583H467V1583.5H465.5V1583H459V1582.5H452.5V1583H427V1583.5H407.5V1583H403V1583.5H399V1583H393.5V1583.5H385V1583H382V1583.5H375.5V1583H372V1583.5H370V1583H367.5V1583.5H365.5V1583H362V1583.5H358.5V1584H358V1583.5H354.5V1583H349.5V1583.5H338.5V1583H324V1583.5H322.5V1584H318V1583.5H307.5V1583H306V1583.5H304.5V1584H294.5V1583.5H291V1584H277.5V1583.5H273V1584H266V1583.5H261V1584H248V1583.5H229.5V1584H228.5V1583.5H226.5V1583H224V1583.5H218.5V1584H218V1583.5H209V1584H208V1583.5H203V1583H201.5V1583.5H193.5V1583H192V1583.5Z"/>
<g font-family="'Liberation Serif','Times New Roman',Times,serif" font-size="43.5px" fill="#000">
<g text-anchor="end">
<text x="156.8" y="1595.4">0</text>
<text x="156.8" y="1482.0">20</text>
<text x="156.8" y="1368.5">40</text>
<text x="156.8" y="1255.1">60</text>
<text x="156.8" y="1141.6">80</text>
<text x="156.8" y="1028.2">100</text>
</g><g text-anchor="middle">
<text x="191.2" y="1693.0">4</text>
<text x="397.2" y="1704.9">10</text>
<text x="739.7" y="1704.9">20</text>
<text x="1083.6" y="1704.9">30</text>
<text x="1427.5" y="1704.9">40</text>
<text x="1771.4" y="1704.9">50</text>
<text x="2115.3" y="1704.9">60</text>
</g></g>
<text font-family="'Liberation Serif','Times New Roman',Times,serif" font-size="54px" text-anchor="middle" x="1153.6" y="1772.4">t / min</text>
<text font-family="'Liberation Serif','Times New Roman',Times,serif" font-size="54px" text-anchor="middle" transform="translate(65.3 1308.0) rotate(-90)">Relative abundance / %</text>
<text font-family="'Liberation Serif','Times New Roman',Times,serif" font-size="43px" font-style="italic" letter-spacing="0.55" x="1016.3" y="1026.7">m/z 85,191</text>
<text font-family="'Liberation Serif','Times New Roman',Times,serif" font-size="52px" x="1915.3" y="1101.0">b</text>
<text font-family="'Liberation Serif','Times New Roman',Times,serif" font-size="48.5px" x="1568.8" y="1130.1">bisnorhopane</text>
</svg>
</body></html>
